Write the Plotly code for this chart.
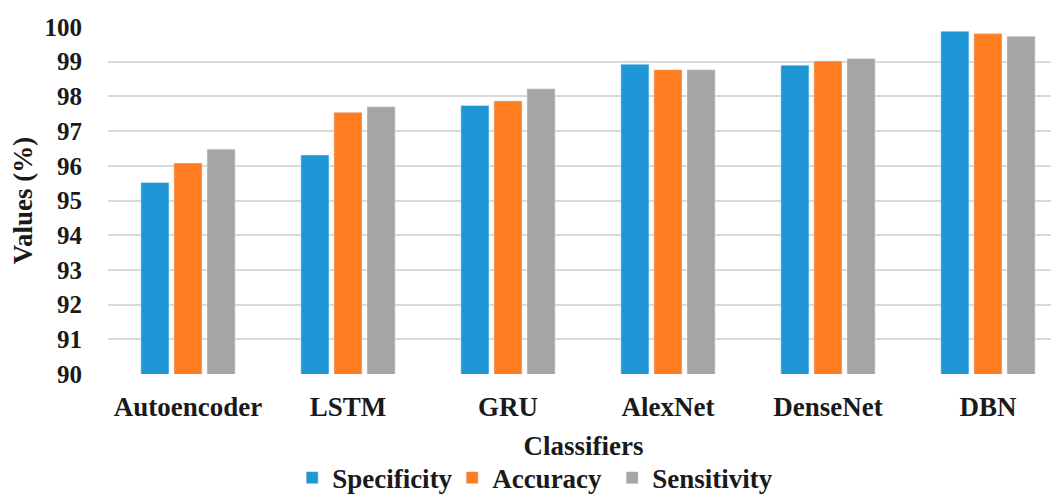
import plotly.graph_objects as go

categories = ["Autoencoder", "LSTM", "GRU", "AlexNet", "DenseNet", "DBN"]
specificity = [95.52, 96.31, 97.74, 98.93, 98.90, 99.88]
accuracy = [96.08, 97.54, 97.87, 98.77, 99.02, 99.81]
sensitivity = [96.48, 97.70, 98.22, 98.77, 99.09, 99.73]
y_ticks = [90, 91, 92, 93, 94, 95, 96, 97, 98, 99, 100]

FONT = "Liberation Serif"

fig = go.Figure()
fig.add_bar(name="Specificity", x=categories, y=specificity, marker_color="#1F96D6")
fig.add_bar(name="Accuracy", x=categories, y=accuracy, marker_color="#FF7C21")
fig.add_bar(name="Sensitivity", x=categories, y=sensitivity, marker_color="#A5A5A5")

fig.update_layout(
    width=1051, height=486,
    margin=dict(l=100, r=0, t=19, b=120, autoexpand=False),
    plot_bgcolor="white", paper_bgcolor="white",
    barmode="group", bargap=0.38, bargroupgap=0.15,
    font=dict(family=FONT, color="#1a1a1a", size=22, weight="bold"),
    showlegend=True,
    legend=dict(orientation="h", x=0.446, xanchor="center", y=-0.30, yanchor="middle",
                font=dict(family=FONT, size=27, weight="bold"), itemwidth=30,
                entrywidth=115, traceorder="normal"),
)
fig.update_xaxes(
    range=[-0.5, 5.444], showgrid=False, showline=False, ticks="",
    ticklabelstandoff=14,
    tickfont=dict(family=FONT, size=27, weight="bold"),
    title=dict(text="Classifiers", font=dict(family=FONT, size=27, weight="bold"), standoff=15),
)
fig.update_yaxes(
    range=[90, 100], tickvals=y_ticks, showgrid=True, gridcolor="#D9D9D9", gridwidth=1.5,
    zeroline=False, showline=False, ticks="", ticklabelstandoff=25,
    tickfont=dict(family=FONT, size=25, weight="bold"),
    title=dict(text="Values (%)", font=dict(family=FONT, size=27, weight="bold"), standoff=9),
)

fig.write_html("out.html")
